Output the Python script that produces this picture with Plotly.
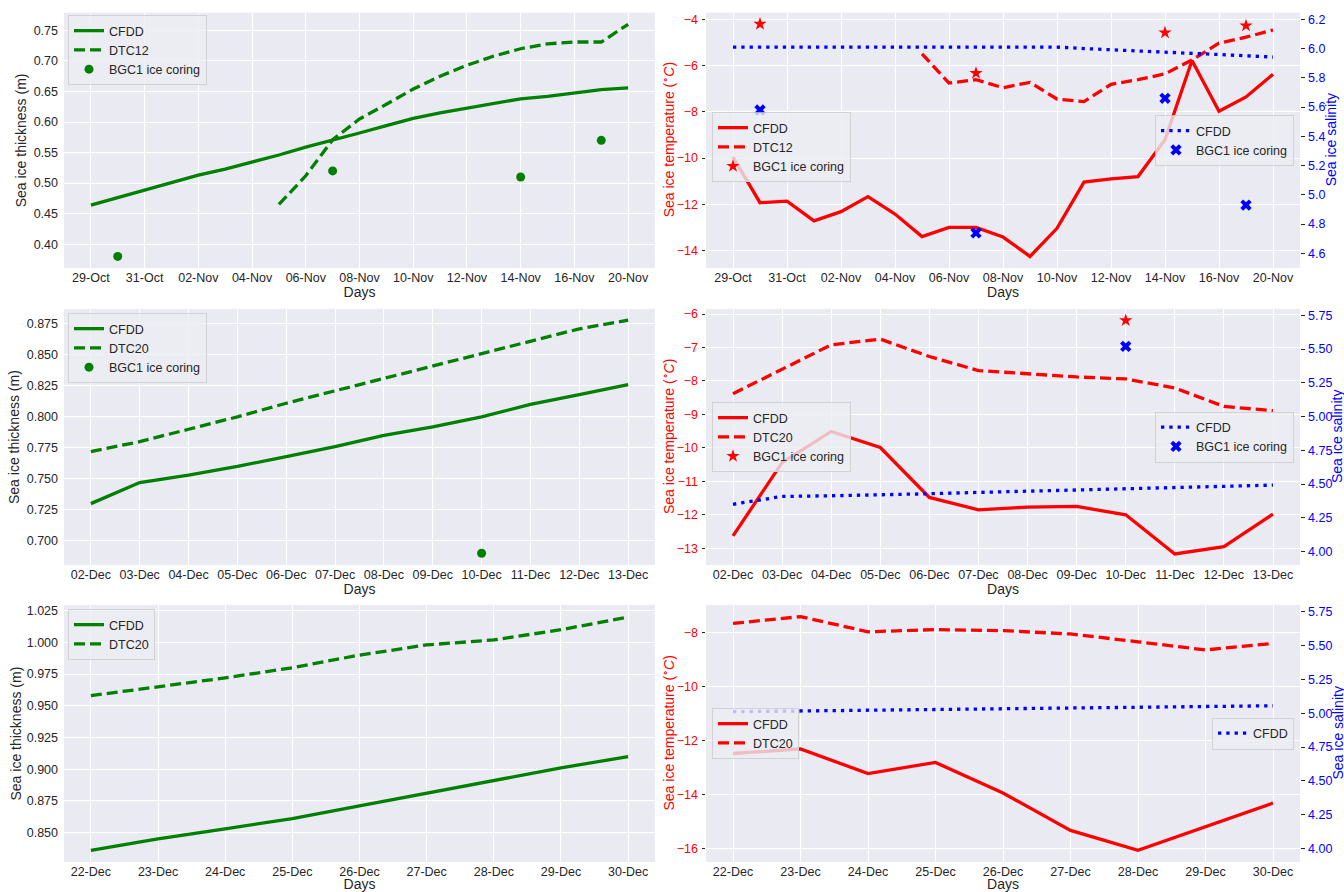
import plotly.graph_objects as go

W, H = 1344, 892

# ---------------- data ----------------
days_top = ["29-Oct", "30-Oct", "31-Oct", "01-Nov", "02-Nov", "03-Nov", "04-Nov", "05-Nov",
            "06-Nov", "07-Nov", "08-Nov", "09-Nov", "10-Nov", "11-Nov", "12-Nov", "13-Nov",
            "14-Nov", "15-Nov", "16-Nov", "18-Nov", "20-Nov"]
days_dtc12 = days_top[7:]
coring_days_top = ["30-Oct", "07-Nov", "14-Nov", "18-Nov"]

thick_cfdd_top = [0.464, 0.476, 0.489, 0.501, 0.513, 0.523, 0.534, 0.546, 0.559, 0.570, 0.582,
                  0.594, 0.606, 0.615, 0.623, 0.631, 0.638, 0.642, 0.648, 0.653, 0.656]
thick_dtc12_top = [0.465, 0.512, 0.571, 0.605, 0.629, 0.654, 0.675, 0.693, 0.708, 0.720,
                   0.728, 0.731, 0.731, 0.760]
coring_thick_top = [0.38, 0.52, 0.51, 0.57]

temp_cfdd_top = [-9.95, -11.93, -11.86, -12.72, -12.32, -11.67, -12.42, -13.40, -13.00, -13.00,
                 -13.42, -14.26, -13.04, -11.04, -10.90, -10.80, -9.20, -5.77, -7.97, -7.35, -6.37]
temp_dtc12_top = [-5.48, -6.75, -6.60, -6.95, -6.72, -7.44, -7.55, -6.80, -6.60, -6.35,
                  -5.75, -5.02, -4.76, -4.45]
sal_cfdd_top = [6.01, 6.01, 6.01, 6.01, 6.01, 6.01, 6.01, 6.01, 6.01, 6.01, 6.01, 6.01, 6.01,
                6.00, 5.993, 5.984, 5.976, 5.967, 5.959, 5.95, 5.942]
coring_temp_top = [-4.19, -6.32, -4.56, -4.26]
coring_sal_top = [5.58, 4.74, 5.66, 4.93]

days_mid = ["02-Dec", "03-Dec", "04-Dec", "05-Dec", "06-Dec", "07-Dec", "08-Dec", "09-Dec",
            "10-Dec", "11-Dec", "12-Dec", "13-Dec"]
coring_days_mid = ["10-Dec"]
thick_cfdd_mid = [0.730, 0.747, 0.753, 0.760, 0.768, 0.776, 0.785, 0.792, 0.800, 0.810, 0.818, 0.826]
thick_dtc20_mid = [0.772, 0.780, 0.790, 0.800, 0.811, 0.821, 0.831, 0.841, 0.851, 0.861, 0.871, 0.878]
coring_thick_mid = [0.69]
temp_cfdd_mid = [-12.63, -10.44, -9.51, -9.99, -11.48, -11.85, -11.77, -11.75, -12.00, -13.17,
                 -12.95, -11.98]
temp_dtc20_mid = [-8.38, -7.66, -6.92, -6.75, -7.27, -7.69, -7.78, -7.88, -7.94, -8.21, -8.76, -8.89]
sal_cfdd_mid = [4.35, 4.408, 4.413, 4.418, 4.428, 4.438, 4.447, 4.455, 4.462, 4.472, 4.482, 4.492]
coring_temp_mid = [-6.19]
coring_sal_mid = [5.52]

days_bot = ["22-Dec", "23-Dec", "24-Dec", "25-Dec", "26-Dec", "27-Dec", "28-Dec", "29-Dec", "30-Dec"]
thick_cfdd_bot = [0.836, 0.845, 0.853, 0.861, 0.871, 0.881, 0.891, 0.901, 0.910]
thick_dtc20_bot = [0.958, 0.965, 0.972, 0.980, 0.990, 0.998, 1.002, 1.010, 1.020]
temp_cfdd_bot = [-12.48, -12.31, -13.22, -12.81, -13.94, -15.32, -16.06, -15.20, -14.31]
temp_dtc20_bot = [-7.67, -7.42, -7.98, -7.90, -7.94, -8.06, -8.35, -8.65, -8.41]
sal_cfdd_bot = [5.011, 5.016, 5.021, 5.026, 5.031, 5.035, 5.043, 5.048, 5.055]

# ---------------- style ----------------
FONT = "Liberation Sans, Arial, sans-serif"
TXT = "#262626"
GREEN, RED, BLUE = "#008000", "#FF0000", "#0000FF"
LW = 3.3
DASH = "11px,5px"
DOT = "3.3px,5px"
BG = "#EAEAF2"
FS = 12.5      # tick labels and legends
TFS = 14       # axis titles


def xd(a, b):
    return [a / W, b / W]


def yd(top, bottom):
    return [1 - bottom / H, 1 - top / H]


LEFT = xd(64, 655)
RIGHT = xd(706, 1300)
ROW_PX = [(12.7, 268), (309, 565), (605, 862)]
ROWS = [yd(t, b) for t, b in ROW_PX]

fig = go.Figure()


def line(x, y, xa, ya, color, dash, name, legend):
    fig.add_trace(go.Scatter(x=x, y=y, xaxis=xa, yaxis=ya, mode="lines", name=name,
                             line=dict(color=color, width=LW, dash=dash), legend=legend))


def pts(x, y, xa, ya, color, symbol, size, name, legend):
    fig.add_trace(go.Scatter(x=x, y=y, xaxis=xa, yaxis=ya, mode="markers", name=name,
                             marker=dict(color=color, symbol=symbol, size=size,
                                         line=dict(width=0)), legend=legend))


# Top row
line(days_top, thick_cfdd_top, "x", "y", GREEN, "solid", "CFDD", "legend")
line(days_dtc12, thick_dtc12_top, "x", "y", GREEN, DASH, "DTC12", "legend")
pts(coring_days_top, coring_thick_top, "x", "y", GREEN, "circle", 9, "BGC1 ice coring", "legend")

line(days_top, temp_cfdd_top, "x2", "y2", RED, "solid", "CFDD", "legend2")
line(days_dtc12, temp_dtc12_top, "x2", "y2", RED, DASH, "DTC12", "legend2")
pts(coring_days_top, coring_temp_top, "x2", "y2", RED, "star", 10, "BGC1 ice coring", "legend2")
line(days_top, sal_cfdd_top, "x2", "y3", BLUE, DOT, "CFDD", "legend3")
pts(coring_days_top, coring_sal_top, "x2", "y3", BLUE, "x", 10, "BGC1 ice coring", "legend3")

# Middle row
line(days_mid, thick_cfdd_mid, "x3", "y4", GREEN, "solid", "CFDD", "legend4")
line(days_mid, thick_dtc20_mid, "x3", "y4", GREEN, DASH, "DTC20", "legend4")
pts(coring_days_mid, coring_thick_mid, "x3", "y4", GREEN, "circle", 9, "BGC1 ice coring", "legend4")

line(days_mid, temp_cfdd_mid, "x4", "y5", RED, "solid", "CFDD", "legend5")
line(days_mid, temp_dtc20_mid, "x4", "y5", RED, DASH, "DTC20", "legend5")
pts(coring_days_mid, coring_temp_mid, "x4", "y5", RED, "star", 10, "BGC1 ice coring", "legend5")
line(days_mid, sal_cfdd_mid, "x4", "y6", BLUE, DOT, "CFDD", "legend6")
pts(coring_days_mid, coring_sal_mid, "x4", "y6", BLUE, "x", 10, "BGC1 ice coring", "legend6")

# Bottom row
line(days_bot, thick_cfdd_bot, "x5", "y7", GREEN, "solid", "CFDD", "legend7")
line(days_bot, thick_dtc20_bot, "x5", "y7", GREEN, DASH, "DTC20", "legend7")

line(days_bot, temp_cfdd_bot, "x6", "y8", RED, "solid", "CFDD", "legend8")
line(days_bot, temp_dtc20_bot, "x6", "y8", RED, DASH, "DTC20", "legend8")
line(days_bot, sal_cfdd_bot, "x6", "y9", BLUE, DOT, "CFDD", "legend9")


def xaxis(domain, anchor, cats, tickvals, rng):
    return dict(domain=domain, anchor=anchor, type="category", categoryorder="array",
                categoryarray=cats, tickvals=tickvals, range=rng, showgrid=True,
                gridcolor="white", gridwidth=1, zeroline=False, showline=False,
                tickfont=dict(size=FS, color=TXT, family=FONT), ticks="",
                title=dict(text="Days", font=dict(size=TFS, color=TXT, family=FONT), standoff=3),
                automargin=False)


def yaxis(domain, anchor, rng, dtick, fmt, color=TXT, side="left", overlay=None,
          grid=True, ticks=""):
    d = dict(anchor=anchor, range=rng, dtick=dtick, tick0=0, tickformat=fmt, showgrid=grid,
             gridcolor="white", gridwidth=1, zeroline=False, showline=False, side=side,
             tickfont=dict(size=FS, color=color, family=FONT), ticks=ticks, ticklen=3.5,
             tickcolor=TXT, tickwidth=1, ticklabelstandoff=(5 if ticks == "" else 1),
             automargin=False)
    if overlay:
        d["overlaying"] = overlay
    else:
        d["domain"] = domain
    return d


TEMP_T = "Sea ice temperature (<sup>∘</sup><i>C</i>)"
THK_T = "Sea ice thickness (m)"
SAL_T = "Sea ice salinity"

layout = dict(
    width=W, height=H, margin=dict(l=0, r=0, t=0, b=0),
    paper_bgcolor="white", plot_bgcolor=BG,
    font=dict(family=FONT, size=FS, color=TXT),
    xaxis=xaxis(LEFT, "y", days_top, days_top[::2], [-1, 21]),
    xaxis2=xaxis(RIGHT, "y2", days_top, days_top[::2], [-1, 21]),
    xaxis3=xaxis(LEFT, "y4", days_mid, days_mid, [-0.55, 11.55]),
    xaxis4=xaxis(RIGHT, "y5", days_mid, days_mid, [-0.55, 11.55]),
    xaxis5=xaxis(LEFT, "y7", days_bot, days_bot, [-0.4, 8.4]),
    xaxis6=xaxis(RIGHT, "y8", days_bot, days_bot, [-0.4, 8.4]),
    yaxis=yaxis(ROWS[0], "x", [0.361, 0.779], 0.05, ".2f"),
    yaxis2=yaxis(ROWS[0], "x2", [-14.76, -3.70], 2, "d", color=RED, ticks="outside"),
    yaxis3=yaxis(None, "x2", [4.50, 6.245], 0.2, ".1f", color=BLUE, side="right",
                 overlay="y2", grid=False, ticks="outside"),
    yaxis4=yaxis(ROWS[1], "x3", [0.6805, 0.887], 0.025, ".3f"),
    yaxis5=yaxis(ROWS[1], "x4", [-13.5, -5.85], 1, "d", color=RED, ticks="outside"),
    yaxis6=yaxis(None, "x4", [3.90, 5.797], 0.25, ".2f", color=BLUE, side="right",
                 overlay="y5", grid=False, ticks="outside"),
    yaxis7=yaxis(ROWS[2], "x5", [0.8268, 1.0295], 0.025, ".3f"),
    yaxis8=yaxis(ROWS[2], "x6", [-16.49, -6.99], 2, "d", color=RED, ticks="outside"),
    yaxis9=yaxis(None, "x6", [3.90, 5.80], 0.25, ".2f", color=BLUE, side="right",
                 overlay="y8", grid=False, ticks="outside"),
)


def legend(x, y, xanchor, yanchor):
    return dict(x=x, y=y, xanchor=xanchor, yanchor=yanchor, xref="paper", yref="paper",
                bgcolor="rgba(236,236,243,0.8)", bordercolor="rgba(204,204,204,0.8)",
                borderwidth=1, font=dict(size=FS, color=TXT, family=FONT),
                tracegroupgap=0, itemwidth=30)


layout["legend"] = legend(68 / W, 1 - 15 / H, "left", "top")
layout["legend2"] = legend(712 / W, 1 - 147 / H, "left", "middle")
layout["legend3"] = legend(1294 / W, 1 - 140.5 / H, "right", "middle")
layout["legend4"] = legend(68 / W, 1 - 313 / H, "left", "top")
layout["legend5"] = legend(712 / W, 1 - 437 / H, "left", "middle")
layout["legend6"] = legend(1294 / W, 1 - 437 / H, "right", "middle")
layout["legend7"] = legend(68 / W, 1 - 609 / H, "left", "top")
layout["legend8"] = legend(712 / W, 1 - 733.5 / H, "left", "middle")
layout["legend9"] = legend(1294 / W, 1 - 733.5 / H, "right", "middle")

# y-axis titles as rotated annotations, placed as in the reference
ann = []
thk_x = [21, 14, 15]
temp_x = [668, 668, 668]
sal_x = [1331, 1337, 1337]
for i, (t, b) in enumerate(ROW_PX):
    yc = 1 - (t + b) / 2 / H
    ann.append(dict(text=THK_T, x=thk_x[i] / W, y=yc, xref="paper", yref="paper",
                    textangle=-90, showarrow=False, xanchor="center", yanchor="middle",
                    font=dict(size=TFS, color=TXT, family=FONT)))
    ann.append(dict(text=TEMP_T, x=temp_x[i] / W, y=yc, xref="paper", yref="paper",
                    textangle=-90, showarrow=False, xanchor="center", yanchor="middle",
                    font=dict(size=TFS, color=RED, family=FONT)))
    ann.append(dict(text=SAL_T, x=sal_x[i] / W, y=yc, xref="paper", yref="paper",
                    textangle=-90, showarrow=False, xanchor="center", yanchor="middle",
                    font=dict(size=TFS, color=BLUE, family=FONT)))
layout["annotations"] = ann

fig.update_layout(**layout)
fig.write_html("out.html")
